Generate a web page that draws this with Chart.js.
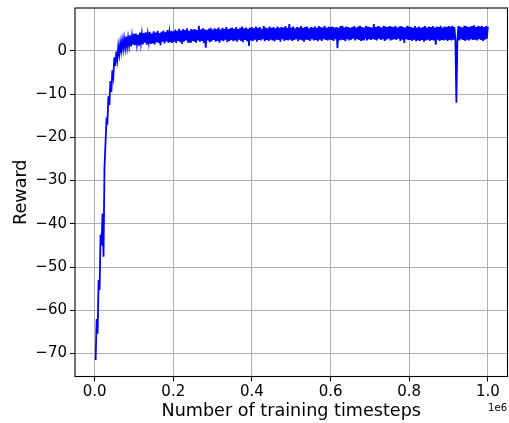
<!DOCTYPE html>
<html>
<head>
<meta charset="utf-8">
<script src="https://cdn.jsdelivr.net/npm/chart.js@4"></script>
<style>
  html, body { margin: 0; padding: 0; background: #fff; }
  #wrap { width: 509px; height: 423px; }
</style>
</head>
<body>
<div id="wrap"><canvas id="rewardChart" width="509" height="423"></canvas></div>
<script>
// reward logged every 2500 timesteps (first entry at 2500)
const logEvery = 2500;

const reward = [
    // 0 - 0.1e6
    -71.5, -62.0, -65.4, -53.0, -55.3, -42.5, -45.0, -37.6, -47.6, -27.0,
    -21.5, -16.0, -16.5, -10.5, -12.5, -7.0, -9.5, -4.5, -6.0, -1.5,
    -3.5, -0.2, -2.0, 1.0, -0.8, 1.8, 0.0, 2.4, 0.5, 2.8,
    0.8, 3.3, 0.9, 3.0, 1.2, 3.6, 1.0, 3.4, 1.4, 3.9,
    // 0.1e6 - 0.2e6
    1.3, 4.0, 1.6, 3.7, 1.2, 4.2, 1.8, 3.9, 1.5, 4.1, 1.9, 4.3, 1.4, 3.8, 2.0, 4.4, 1.6, 4.0, 1.7, 4.5,
    1.5, 4.2, 2.0, 4.6, 1.8, 4.1, 1.3, 4.4, 2.1, 4.7, 1.7, 4.3, 2.2, 4.8, 1.9, 4.2, 2.0, 4.6, 1.8, 4.5,
    // 0.2e6 - 0.4e6
    2.1, 4.9, 1.8, 4.6, 2.3, 5.1, 2.0, 4.7, 1.6, 5.0, 2.2, 4.8, 2.4, 5.2, 1.9, 4.6, 2.1, 5.0, 2.3, 4.9,
    2.2, 5.0, 1.9, 4.8, 2.4, 5.8, 2.1, 4.9, 2.3, 5.2, 1.8, 5.0, 0.7, 4.8, 2.4, 5.1, 2.0, 5.3, 2.2, 4.9,
    2.5, 5.2, 2.1, 5.0, 2.3, 5.4, 1.9, 4.9, 2.4, 5.3, 2.2, 5.1, 2.6, 5.5, 2.0, 5.0, 2.3, 5.2, 2.5, 5.4,
    2.2, 5.1, 2.4, 5.5, 2.1, 5.0, 2.6, 5.3, 2.3, 5.6, 2.0, 5.2, 2.5, 5.4, 2.2, 5.1, 1.1, 5.3, 2.4, 5.5,
    // 0.4e6 - 0.6e6
    2.3, 5.2, 2.6, 5.6, 2.1, 5.3, 2.5, 5.5, 2.4, 5.1, 2.7, 5.7, 2.2, 5.4, 2.5, 5.2, 2.3, 5.6, 2.6, 5.3,
    2.4, 5.5, 2.2, 5.2, 2.6, 5.6, 2.5, 5.3, 2.1, 5.5, 2.7, 5.4, 2.3, 5.7, 2.5, 5.3, 2.4, 6.2, 2.6, 5.4,
    2.3, 5.6, 2.5, 5.2, 2.7, 5.5, 2.2, 5.4, 2.6, 5.7, 2.4, 5.3, 2.1, 5.5, 2.6, 5.6, 2.5, 5.2, 2.3, 5.5,
    2.7, 5.4, 2.4, 5.6, 2.5, 5.3, 2.2, 5.7, 2.6, 5.5, 2.3, 5.4, 2.7, 5.8, 2.5, 5.3, 2.4, 5.6, 2.6, 5.5,
    // 0.6e6 - 0.8e6
    2.5, 5.6, 2.3, 5.4, 2.7, 5.5, 0.6, 5.3, 2.4, 5.7, 2.6, 5.8, 2.5, 5.4, 2.2, 5.6, 2.7, 5.5, 2.4, 5.3,
    2.6, 5.5, 2.8, 5.7, 2.4, 5.4, 2.7, 5.6, 2.5, 5.8, 2.3, 5.5, 2.6, 5.4, 2.8, 5.7, 2.4, 5.6, 2.7, 5.5,
    2.5, 5.4, 2.7, 6.2, 2.6, 5.5, 2.4, 5.7, 2.8, 5.6, 2.5, 5.4, 2.7, 5.8, 2.3, 5.6, 2.6, 5.5, 2.8, 5.7,
    2.4, 5.6, 2.6, 5.5, 2.7, 5.8, 2.5, 5.4, 2.8, 5.6, 2.3, 5.7, 2.6, 5.5, 1.8, 5.4, 2.7, 5.8, 2.5, 5.6,
    // 0.8e6 - 1.0e6
    2.5, 5.5, 2.3, 5.3, 2.6, 5.7, 2.2, 5.4, 2.4, 5.6, 2.3, 5.3, 2.5, 5.5, 2.1, 5.7, 2.4, 5.4, 2.6, 5.6,
    2.3, 5.5, 2.5, 5.7, 2.4, 5.4, 1.4, 5.6, 2.6, 5.5, 2.3, 5.8, 2.5, 5.4, 2.4, 5.6, 2.6, 5.5, 2.3, 5.7,
    2.5, 5.6, 2.4, 5.8, 2.6, 5.5, 2.3, -12.0, 2.5, 5.7, 2.4, 5.6, 2.7, 5.4, 2.5, 5.8, 2.3, 5.7, 2.6, 5.5,
    2.4, 5.6, 2.7, 5.7, 2.5, 5.9, 2.6, 5.5, 2.4, 5.7, 2.7, 5.6, 2.5, 5.8, 2.3, 5.5, 2.6, 5.7, 2.8, 5.6
];

const timesteps = reward.map((_, i) => (i + 1) * logEvery);

const xTicks = [0, 200000, 400000, 600000, 800000, 1000000];
const yTicks = [-70, -60, -50, -40, -30, -20, -10, 0];

const font = 'DejaVu Sans';

// full box round the plot + the "1e6" offset label
const framePlugin = {
    id: 'frame',
    afterDraw(chart) {
        const { ctx, chartArea: a } = chart;
        ctx.save();
        ctx.strokeStyle = '#000';
        ctx.lineWidth = 1.1;
        ctx.strokeRect(a.left, a.top, a.right - a.left, a.bottom - a.top);
        ctx.fillStyle = '#000';
        ctx.font = '10px "' + font + '"';
        ctx.textAlign = 'right';
        ctx.textBaseline = 'alphabetic';
        ctx.fillText('1e6', 507, 410.5);
        ctx.restore();
    }
};

window.addEventListener('load', () => {
    new Chart(document.getElementById('rewardChart'), {
        type: 'line',
        data: {
            datasets: [{
                label: 'Reward',
                data: timesteps.map((t, i) => ({ x: t, y: reward[i] })),
                borderColor: '#0000ff',
                borderWidth: 1.8,
                pointRadius: 0,
                tension: 0,
                fill: false
            }]
        },
        options: {
            responsive: false,
            animation: false,
            devicePixelRatio: 1,
            layout: { padding: { top: 8, right: 1.5, left: 0, bottom: 0 } },
            plugins: { legend: { display: false }, tooltip: { enabled: false } },
            scales: {
                x: {
                    type: 'linear',
                    min: -50000,
                    max: 1050000,
                    afterBuildTicks: s => { s.ticks = xTicks.map(v => ({ value: v })); },
                    afterFit: s => { s.height = 46.5; s.paddingLeft = 0; s.paddingRight = 0; },
                    grid: { color: '#b0b0b0', lineWidth: 1, tickColor: '#000', tickLength: 5 },
                    border: { display: false },
                    ticks: {
                        color: '#000',
                        font: { family: font, size: 15 },
                        padding: 2,
                        maxRotation: 0,
                        callback: v => (v / 1e6).toFixed(1)
                    },
                    title: {
                        display: true,
                        text: 'Number of training timesteps',
                        color: '#000',
                        font: { family: font, size: 17.6 },
                        padding: { top: 0, bottom: 1.2 }
                    }
                },
                y: {
                    min: -75.3,
                    max: 9.9,
                    afterBuildTicks: s => { s.ticks = yTicks.map(v => ({ value: v })); },
                    afterFit: s => { s.width = 75; s.paddingTop = 0; s.paddingBottom = 0; },
                    grid: { color: '#b0b0b0', lineWidth: 1, tickColor: '#000', tickLength: 5 },
                    border: { display: false },
                    ticks: {
                        color: '#000',
                        font: { family: font, size: 15 },
                        padding: 3,
                        callback: v => v < 0 ? '\u2212' + Math.abs(v) : String(v)
                    },
                    title: {
                        display: true,
                        text: 'Reward',
                        color: '#000',
                        font: { family: font, size: 17.6 },
                        padding: { top: 11, bottom: 0 }
                    }
                }
            }
        },
        plugins: [framePlugin]
    });
});
</script>
</body>
</html>
